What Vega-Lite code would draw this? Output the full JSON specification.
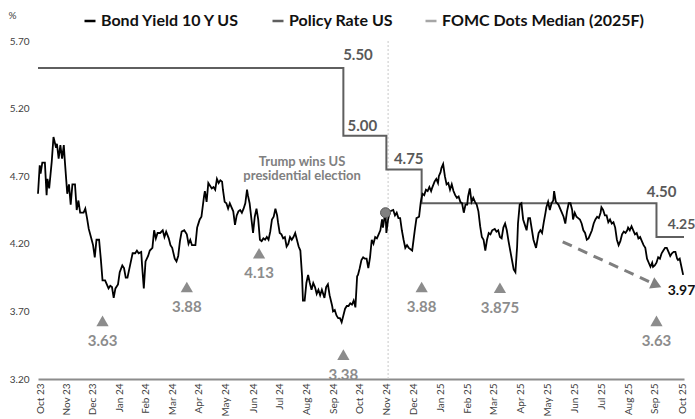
{
"$schema": "https://vega.github.io/schema/vega-lite/v6.json",
"width": 646, "height": 338,
"autosize": {"type": "none"},
"padding": {"left": 38, "top": 41, "right": 11, "bottom": 40},
"background": "white",
"config": {"view": {"stroke": null}, "font": "Lato"},
"datasets": {
"bond": [
{"date":"2023-09-29","value":4.57},{"date":"2023-10-01","value":4.78},{"date":"2023-10-02","value":4.72},{"date":"2023-10-04","value":4.80},{"date":"2023-10-07","value":4.80},{"date":"2023-10-09","value":4.56},{"date":"2023-10-10","value":4.68},{"date":"2023-10-12","value":4.61},{"date":"2023-10-15","value":4.81},{"date":"2023-10-17","value":4.99},{"date":"2023-10-20","value":4.91},{"date":"2023-10-21","value":4.94},{"date":"2023-10-23","value":4.83},{"date":"2023-10-25","value":4.93},{"date":"2023-10-27","value":4.83},{"date":"2023-10-29","value":4.93},{"date":"2023-10-30","value":4.83},{"date":"2023-11-02","value":4.57},{"date":"2023-11-04","value":4.64},{"date":"2023-11-06","value":4.49},{"date":"2023-11-08","value":4.64},{"date":"2023-11-11","value":4.64},{"date":"2023-11-13","value":4.45},{"date":"2023-11-15","value":4.52},{"date":"2023-11-17","value":4.43},{"date":"2023-11-21","value":4.43},{"date":"2023-11-23","value":4.46},{"date":"2023-11-25","value":4.39},{"date":"2023-11-27","value":4.31},{"date":"2023-11-30","value":4.24},{"date":"2023-12-02","value":4.19},{"date":"2023-12-04","value":4.10},{"date":"2023-12-06","value":4.23},{"date":"2023-12-09","value":4.23},{"date":"2023-12-11","value":4.09},{"date":"2023-12-13","value":3.93},{"date":"2023-12-16","value":3.93},{"date":"2023-12-18","value":3.90},{"date":"2023-12-20","value":3.87},{"date":"2023-12-22","value":3.89},{"date":"2023-12-24","value":3.88},{"date":"2023-12-26","value":3.80},{"date":"2023-12-28","value":3.87},{"date":"2023-12-31","value":3.90},
{"date":"2024-01-02","value":3.99},{"date":"2024-01-05","value":4.04},{"date":"2024-01-07","value":4.02},{"date":"2024-01-09","value":3.95},{"date":"2024-01-11","value":3.95},{"date":"2024-01-15","value":4.07},{"date":"2024-01-17","value":4.13},{"date":"2024-01-20","value":4.13},{"date":"2024-01-22","value":4.15},{"date":"2024-01-24","value":4.13},{"date":"2024-01-27","value":4.14},{"date":"2024-01-28","value":4.04},{"date":"2024-01-30","value":3.87},{"date":"2024-02-01","value":4.07},{"date":"2024-02-04","value":4.11},{"date":"2024-02-06","value":4.15},{"date":"2024-02-09","value":4.17},{"date":"2024-02-11","value":4.30},{"date":"2024-02-13","value":4.24},{"date":"2024-02-15","value":4.28},{"date":"2024-02-18","value":4.28},{"date":"2024-02-21","value":4.30},{"date":"2024-02-23","value":4.25},{"date":"2024-02-25","value":4.29},{"date":"2024-02-28","value":4.24},{"date":"2024-03-01","value":4.19},{"date":"2024-03-03","value":4.17},{"date":"2024-03-06","value":4.09},{"date":"2024-03-08","value":4.07},{"date":"2024-03-10","value":4.11},{"date":"2024-03-12","value":4.22},{"date":"2024-03-14","value":4.29},{"date":"2024-03-17","value":4.30},{"date":"2024-03-20","value":4.27},{"date":"2024-03-22","value":4.20},{"date":"2024-03-24","value":4.23},{"date":"2024-03-26","value":4.19},{"date":"2024-03-30","value":4.19},{"date":"2024-04-01","value":4.32},{"date":"2024-04-02","value":4.34},{"date":"2024-04-04","value":4.38},{"date":"2024-04-06","value":4.40},{"date":"2024-04-09","value":4.55},{"date":"2024-04-10","value":4.59},{"date":"2024-04-12","value":4.51},{"date":"2024-04-14","value":4.65},{"date":"2024-04-16","value":4.63},{"date":"2024-04-18","value":4.61},{"date":"2024-04-20","value":4.62},{"date":"2024-04-22","value":4.60},{"date":"2024-04-24","value":4.68},{"date":"2024-04-26","value":4.65},{"date":"2024-04-28","value":4.67},{"date":"2024-04-30","value":4.66},{"date":"2024-05-01","value":4.60},{"date":"2024-05-03","value":4.51},{"date":"2024-05-05","value":4.50},{"date":"2024-05-07","value":4.46},{"date":"2024-05-09","value":4.50},{"date":"2024-05-11","value":4.47},{"date":"2024-05-13","value":4.44},{"date":"2024-05-15","value":4.34},{"date":"2024-05-17","value":4.41},{"date":"2024-05-19","value":4.44},{"date":"2024-05-21","value":4.45},{"date":"2024-05-23","value":4.43},{"date":"2024-05-25","value":4.46},{"date":"2024-05-27","value":4.50},{"date":"2024-05-29","value":4.60},{"date":"2024-05-30","value":4.56},{"date":"2024-06-01","value":4.50},{"date":"2024-06-03","value":4.39},{"date":"2024-06-05","value":4.28},{"date":"2024-06-07","value":4.40},{"date":"2024-06-09","value":4.46},{"date":"2024-06-11","value":4.38},{"date":"2024-06-13","value":4.23},{"date":"2024-06-15","value":4.22},{"date":"2024-06-17","value":4.24},{"date":"2024-06-19","value":4.23},{"date":"2024-06-21","value":4.25},{"date":"2024-06-23","value":4.23},{"date":"2024-06-25","value":4.29},{"date":"2024-06-27","value":4.38},{"date":"2024-06-29","value":4.40},{"date":"2024-07-01","value":4.46},{"date":"2024-07-03","value":4.41},{"date":"2024-07-04","value":4.36},{"date":"2024-07-06","value":4.28},{"date":"2024-07-08","value":4.27},{"date":"2024-07-10","value":4.24},{"date":"2024-07-12","value":4.25},{"date":"2024-07-14","value":4.18},{"date":"2024-07-16","value":4.20},{"date":"2024-07-18","value":4.25},{"date":"2024-07-20","value":4.23},{"date":"2024-07-22","value":4.25},{"date":"2024-07-24","value":4.28},{"date":"2024-07-26","value":4.23},{"date":"2024-07-28","value":4.18},{"date":"2024-07-30","value":4.15},{"date":"2024-08-01","value":3.96},{"date":"2024-08-02","value":3.78},{"date":"2024-08-04","value":3.78},{"date":"2024-08-06","value":3.91},{"date":"2024-08-08","value":3.97},{"date":"2024-08-10","value":3.91},{"date":"2024-08-12","value":3.86},{"date":"2024-08-14","value":3.91},{"date":"2024-08-16","value":3.88},{"date":"2024-08-18","value":3.83},{"date":"2024-08-20","value":3.86},{"date":"2024-08-22","value":3.82},{"date":"2024-08-24","value":3.86},{"date":"2024-08-27","value":3.80},{"date":"2024-08-29","value":3.88},{"date":"2024-08-31","value":3.90},{"date":"2024-09-02","value":3.82},{"date":"2024-09-05","value":3.74},{"date":"2024-09-06","value":3.70},{"date":"2024-09-08","value":3.71},{"date":"2024-09-10","value":3.67},{"date":"2024-09-12","value":3.65},{"date":"2024-09-14","value":3.65},{"date":"2024-09-16","value":3.62},{"date":"2024-09-18","value":3.67},{"date":"2024-09-20","value":3.72},{"date":"2024-09-22","value":3.74},{"date":"2024-09-24","value":3.74},{"date":"2024-09-26","value":3.76},{"date":"2024-09-28","value":3.75},{"date":"2024-09-30","value":3.78},{"date":"2024-10-02","value":3.73},{"date":"2024-10-04","value":3.96},{"date":"2024-10-05","value":3.97},{"date":"2024-10-07","value":4.02},{"date":"2024-10-09","value":4.08},{"date":"2024-10-11","value":4.10},{"date":"2024-10-13","value":4.09},{"date":"2024-10-15","value":4.09},{"date":"2024-10-17","value":4.02},{"date":"2024-10-19","value":4.10},{"date":"2024-10-21","value":4.23},{"date":"2024-10-23","value":4.20},{"date":"2024-10-25","value":4.25},{"date":"2024-10-27","value":4.24},{"date":"2024-10-29","value":4.27},{"date":"2024-10-31","value":4.30},{"date":"2024-11-02","value":4.38},{"date":"2024-11-03","value":4.32},{"date":"2024-11-05","value":4.40},{"date":"2024-11-06","value":4.43},{"date":"2024-11-07","value":4.28},{"date":"2024-11-09","value":4.38},{"date":"2024-11-11","value":4.44},{"date":"2024-11-15","value":4.45},{"date":"2024-11-17","value":4.41},{"date":"2024-11-19","value":4.43},{"date":"2024-11-21","value":4.39},{"date":"2024-11-23","value":4.39},{"date":"2024-11-25","value":4.30},{"date":"2024-11-27","value":4.23},{"date":"2024-11-29","value":4.17},{"date":"2024-12-01","value":4.19},{"date":"2024-12-03","value":4.17},{"date":"2024-12-07","value":4.15},{"date":"2024-12-08","value":4.20},{"date":"2024-12-10","value":4.30},{"date":"2024-12-12","value":4.39},{"date":"2024-12-15","value":4.40},{"date":"2024-12-17","value":4.51},{"date":"2024-12-19","value":4.57},{"date":"2024-12-21","value":4.56},{"date":"2024-12-23","value":4.60},{"date":"2024-12-25","value":4.59},{"date":"2024-12-27","value":4.62},{"date":"2024-12-29","value":4.59},{"date":"2024-12-30","value":4.61},
{"date":"2025-01-02","value":4.66},{"date":"2025-01-04","value":4.68},{"date":"2025-01-06","value":4.65},{"date":"2025-01-07","value":4.70},{"date":"2025-01-09","value":4.73},{"date":"2025-01-10","value":4.76},{"date":"2025-01-12","value":4.79},{"date":"2025-01-14","value":4.70},{"date":"2025-01-16","value":4.64},{"date":"2025-01-18","value":4.65},{"date":"2025-01-20","value":4.60},{"date":"2025-01-22","value":4.64},{"date":"2025-01-24","value":4.59},{"date":"2025-01-26","value":4.56},{"date":"2025-01-28","value":4.54},{"date":"2025-01-30","value":4.55},{"date":"2025-02-01","value":4.51},{"date":"2025-02-03","value":4.50},{"date":"2025-02-05","value":4.43},{"date":"2025-02-07","value":4.49},{"date":"2025-02-09","value":4.49},{"date":"2025-02-10","value":4.55},{"date":"2025-02-12","value":4.61},{"date":"2025-02-14","value":4.51},{"date":"2025-02-16","value":4.54},{"date":"2025-02-18","value":4.51},{"date":"2025-02-20","value":4.49},{"date":"2025-02-22","value":4.44},{"date":"2025-02-24","value":4.33},{"date":"2025-02-26","value":4.25},{"date":"2025-02-28","value":4.23},{"date":"2025-03-02","value":4.15},{"date":"2025-03-04","value":4.23},{"date":"2025-03-06","value":4.28},{"date":"2025-03-08","value":4.27},{"date":"2025-03-10","value":4.30},{"date":"2025-03-13","value":4.31},{"date":"2025-03-15","value":4.29},{"date":"2025-03-17","value":4.30},{"date":"2025-03-19","value":4.25},{"date":"2025-03-21","value":4.24},{"date":"2025-03-23","value":4.32},{"date":"2025-03-25","value":4.35},{"date":"2025-03-27","value":4.30},{"date":"2025-03-29","value":4.22},{"date":"2025-03-31","value":4.15},{"date":"2025-04-02","value":4.08},{"date":"2025-04-04","value":4.01},{"date":"2025-04-06","value":3.99},{"date":"2025-04-08","value":4.18},{"date":"2025-04-09","value":4.35},{"date":"2025-04-11","value":4.49},{"date":"2025-04-13","value":4.50},{"date":"2025-04-15","value":4.38},{"date":"2025-04-17","value":4.34},{"date":"2025-04-19","value":4.30},{"date":"2025-04-21","value":4.39},{"date":"2025-04-23","value":4.39},{"date":"2025-04-27","value":4.23},{"date":"2025-04-30","value":4.17},{"date":"2025-05-03","value":4.28},{"date":"2025-05-05","value":4.30},{"date":"2025-05-07","value":4.28},{"date":"2025-05-09","value":4.36},{"date":"2025-05-11","value":4.43},{"date":"2025-05-12","value":4.47},{"date":"2025-05-14","value":4.51},{"date":"2025-05-16","value":4.45},{"date":"2025-05-18","value":4.50},{"date":"2025-05-20","value":4.52},{"date":"2025-05-21","value":4.59},{"date":"2025-05-23","value":4.51},{"date":"2025-05-26","value":4.49},{"date":"2025-05-30","value":4.43},{"date":"2025-06-01","value":4.40},{"date":"2025-06-03","value":4.35},{"date":"2025-06-05","value":4.44},{"date":"2025-06-07","value":4.50},{"date":"2025-06-09","value":4.50},{"date":"2025-06-11","value":4.45},{"date":"2025-06-12","value":4.38},{"date":"2025-06-14","value":4.43},{"date":"2025-06-16","value":4.40},{"date":"2025-06-18","value":4.39},{"date":"2025-06-20","value":4.38},{"date":"2025-06-22","value":4.35},{"date":"2025-06-24","value":4.30},{"date":"2025-06-26","value":4.28},{"date":"2025-06-28","value":4.23},{"date":"2025-06-30","value":4.24},{"date":"2025-07-02","value":4.27},{"date":"2025-07-04","value":4.30},{"date":"2025-07-06","value":4.35},{"date":"2025-07-08","value":4.38},{"date":"2025-07-10","value":4.40},{"date":"2025-07-12","value":4.39},{"date":"2025-07-14","value":4.43},{"date":"2025-07-15","value":4.47},{"date":"2025-07-17","value":4.45},{"date":"2025-07-19","value":4.41},{"date":"2025-07-21","value":4.41},{"date":"2025-07-23","value":4.36},{"date":"2025-07-25","value":4.38},{"date":"2025-07-27","value":4.35},{"date":"2025-07-29","value":4.36},{"date":"2025-07-31","value":4.32},{"date":"2025-08-02","value":4.23},{"date":"2025-08-04","value":4.19},{"date":"2025-08-06","value":4.22},{"date":"2025-08-08","value":4.27},{"date":"2025-08-10","value":4.29},{"date":"2025-08-12","value":4.28},{"date":"2025-08-14","value":4.30},{"date":"2025-08-15","value":4.32},{"date":"2025-08-17","value":4.30},{"date":"2025-08-19","value":4.33},{"date":"2025-08-21","value":4.30},{"date":"2025-08-23","value":4.27},{"date":"2025-08-25","value":4.28},{"date":"2025-08-27","value":4.24},{"date":"2025-08-29","value":4.25},{"date":"2025-08-31","value":4.22},{"date":"2025-09-02","value":4.19},{"date":"2025-09-04","value":4.17},{"date":"2025-09-06","value":4.09},{"date":"2025-09-08","value":4.06},{"date":"2025-09-10","value":4.03},{"date":"2025-09-12","value":4.06},{"date":"2025-09-13","value":4.03},{"date":"2025-09-15","value":4.04},{"date":"2025-09-17","value":4.06},{"date":"2025-09-19","value":4.10},{"date":"2025-09-21","value":4.09},{"date":"2025-09-23","value":4.13},{"date":"2025-09-25","value":4.15},{"date":"2025-09-27","value":4.17},{"date":"2025-09-29","value":4.17},{"date":"2025-10-01","value":4.14},{"date":"2025-10-03","value":4.11},{"date":"2025-10-05","value":4.13},{"date":"2025-10-07","value":4.14},{"date":"2025-10-09","value":4.14},{"date":"2025-10-11","value":4.09},{"date":"2025-10-12","value":4.08},{"date":"2025-10-14","value":4.09},{"date":"2025-10-16","value":4.03},{"date":"2025-10-18","value":3.97}
],
"policy": [{"date":"2023-09-29","value":5.5},{"date":"2024-09-18","value":5.0},{"date":"2024-11-07","value":4.75},{"date":"2024-12-18","value":4.5},{"date":"2025-09-17","value":4.25},{"date":"2025-10-19","value":4.25}],
"fomc": [{"date":"2023-12-13","value":3.63,"text":"3.63"},{"date":"2024-03-20","value":3.88,"text":"3.88"},{"date":"2024-06-12","value":4.13,"text":"4.13"},{"date":"2024-09-18","value":3.38,"text":"3.38"},{"date":"2024-12-18","value":3.88,"text":"3.88"},{"date":"2025-03-19","value":3.875,"text":"3.875"},{"date":"2025-09-17","value":3.63,"text":"3.63"}],
"election": [{"date":"2024-11-06","value":4.43}],
"marker": [{"date":"2024-11-09","value":3.2},{"date":"2024-11-09","value":5.7}],
"arrow": [{"date":"2025-05-31","value":4.215},{"date":"2025-09-17","value":3.895}],
"arrowHead": [{"date":"2025-09-17","value":3.895}],
"policyLabels": [{"date":"2024-10-05","value":5.596,"text":"5.50"},{"date":"2024-10-10","value":5.075,"text":"5.00"},{"date":"2024-12-03","value":4.826,"text":"4.75"},{"date":"2025-09-23","value":4.585,"text":"4.50"}],
"edgeLabels": [{"date":"2025-09-30","value":4.339,"text":"4.25"}],
"note": [{"date":"2024-08-01","value":4.807,"text":"Trump wins US"},{"date":"2024-08-01","value":4.701,"text":"presidential election"}],
"endLabel": [{"date":"2025-09-30","value":3.851,"text":"3.97"}]
},
"encoding": {
"x": {"field":"date","type":"temporal",
 "scale":{"type":"utc","domain":[{"year":2023,"month":9,"date":29,"utc":true},{"year":2025,"month":10,"date":19,"utc":true}]},
 "axis":{"title":null,"format":"%b %y","labelAngle":270,"ticks":false,"grid":false,"domainColor":"#8c8c8c","domainWidth":2,"labelFontSize":10,"labelFont":"Lato","labelColor":"#404040","labelPadding":4,"labelOverlap":false,"labelFlush":false,"labelBound":false,
 "values":[{"year":2023,"month":10,"date":1,"hours":12,"utc":true},{"year":2023,"month":11,"date":1,"hours":12,"utc":true},{"year":2023,"month":12,"date":1,"hours":12,"utc":true},{"year":2024,"month":1,"date":1,"hours":12,"utc":true},{"year":2024,"month":2,"date":1,"hours":12,"utc":true},{"year":2024,"month":3,"date":3,"utc":true},{"year":2024,"month":4,"date":3,"utc":true},{"year":2024,"month":5,"date":4,"utc":true},{"year":2024,"month":6,"date":5,"utc":true},{"year":2024,"month":7,"date":6,"utc":true},{"year":2024,"month":8,"date":6,"utc":true},{"year":2024,"month":9,"date":6,"utc":true},{"year":2024,"month":10,"date":7,"utc":true},{"year":2024,"month":11,"date":7,"utc":true},{"year":2024,"month":12,"date":8,"utc":true},{"year":2025,"month":1,"date":9,"utc":true},{"year":2025,"month":2,"date":9,"utc":true},{"year":2025,"month":3,"date":12,"utc":true},{"year":2025,"month":4,"date":12,"utc":true},{"year":2025,"month":5,"date":13,"utc":true},{"year":2025,"month":6,"date":14,"utc":true},{"year":2025,"month":7,"date":15,"utc":true},{"year":2025,"month":8,"date":15,"utc":true},{"year":2025,"month":9,"date":15,"utc":true},{"year":2025,"month":10,"date":17,"utc":true}]}},
"y": {"field":"value","type":"quantitative",
 "scale":{"domain":[3.2,5.7],"nice":false,"zero":false},
 "axis":{"values":[3.2,3.7,4.2,4.7,5.2,5.7],"format":".2f","domain":false,"ticks":false,"grid":false,"labelFontSize":10,"labelFont":"Lato","labelColor":"#404040","labelPadding":9,
 "title":"%","titleAngle":0,"titleX":-30,"titleY":-26,"titleFontSize":10,"titleFont":"Lato","titleFontWeight":"normal","titleColor":"#404040","titleAlign":"left","titleBaseline":"middle"}}
},
"layer": [
{"data":{"name":"marker"},"mark":{"type":"line","color":"#c8c8c8","strokeWidth":1,"strokeDash":[2,2]}},
{"data":{"name":"policy"},"mark":{"type":"line","interpolate":"step-after","strokeWidth":2},
 "encoding":{"color":{"datum":"Policy Rate US","type":"nominal",
 "scale":{"domain":["Bond Yield 10 Y US","Policy Rate US","FOMC Dots Median (2025F)"],"range":["#000000","#5f5f5f","#a6a6a6"]},
 "legend":{"orient":"none","legendX":44,"legendY":-28,"direction":"horizontal","title":null,"symbolType":"stroke","symbolSize":121,"symbolStrokeWidth":2.5,"labelFont":"Lato","labelFontSize":16,"labelFontWeight":"bold","labelColor":"#111111","labelOffset":3,"columnPadding":27,"labelLimit":400}}}},
{"data":{"name":"bond"},"mark":{"type":"line","strokeWidth":1.8},
 "encoding":{"color":{"datum":"Bond Yield 10 Y US","type":"nominal"}}},
{"data":{"name":"fomc"},"mark":{"type":"point","shape":"triangle-up","filled":true,"size":150,"color":"#8c8c8c","opacity":1}},
{"data":{"name":"fomc"},"mark":{"type":"text","dy":20,"fontSize":15,"fontWeight":"bold","color":"#8c8c8c","align":"center","baseline":"middle"},"encoding":{"text":{"field":"text"}}},
{"data":{"name":"election"},"mark":{"type":"point","shape":"circle","filled":true,"size":100,"color":"#808080","stroke":"#595959","strokeWidth":1,"opacity":1}},
{"data":{"name":"policyLabels"},"mark":{"type":"text","fontSize":15,"fontWeight":"bold","color":"#595959","align":"center","baseline":"middle"},"encoding":{"text":{"field":"text"}}},
{"data":{"name":"edgeLabels"},"mark":{"type":"text","fontSize":14,"fontWeight":"bold","color":"#595959","align":"left","baseline":"middle"},"encoding":{"text":{"field":"text"}}},
{"data":{"name":"note"},"mark":{"type":"text","fontSize":13,"fontWeight":"bold","color":"#808080","align":"center","baseline":"middle"},"encoding":{"text":{"field":"text"}}},
{"data":{"name":"arrow"},"mark":{"type":"line","color":"#7f7f7f","strokeWidth":3,"strokeDash":[10,7]}},
{"data":{"name":"arrowHead"},"mark":{"type":"point","shape":"triangle-right","filled":true,"size":150,"angle":24.7,"color":"#7f7f7f","opacity":1}},
{"data":{"name":"endLabel"},"mark":{"type":"text","fontSize":14,"fontWeight":"bold","color":"#111111","align":"left","baseline":"middle"},"encoding":{"text":{"field":"text"}}}
]
}
